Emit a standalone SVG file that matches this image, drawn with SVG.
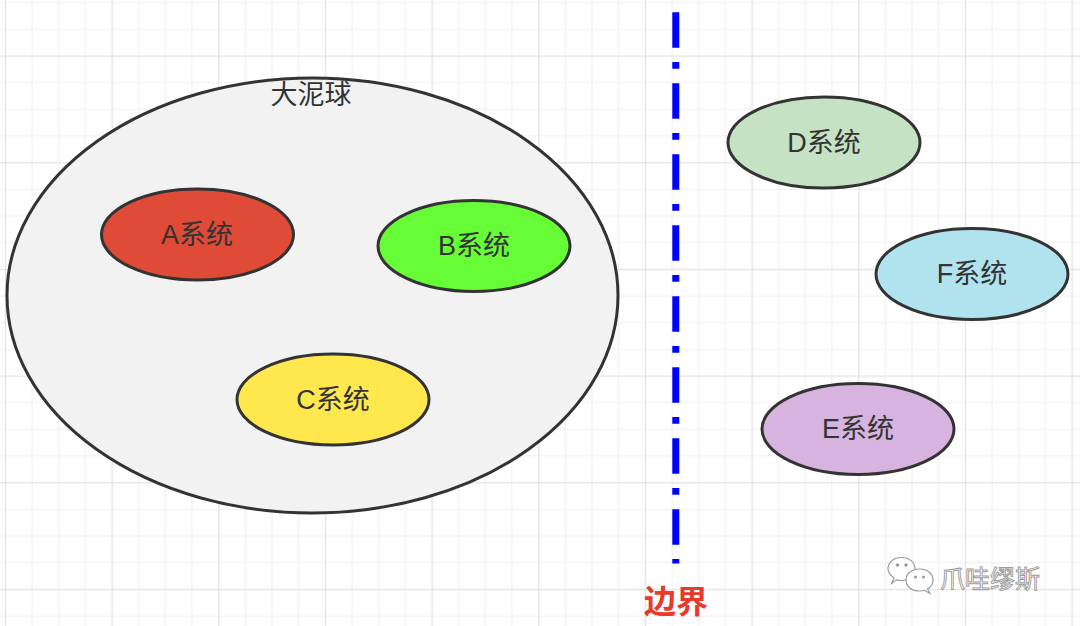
<svg xmlns="http://www.w3.org/2000/svg" width="1080" height="626" viewBox="0 0 1080 626">
  <defs>
    <pattern id="grid" patternUnits="userSpaceOnUse" x="4.83" y="55.5" width="106.667" height="106.667">
      <rect x="0" y="0" width="1" height="106.667" fill="#eeeeee"/>
      <rect x="26.667" y="0" width="1" height="106.667" fill="#eeeeee"/>
      <rect x="53.333" y="0" width="1" height="106.667" fill="#eeeeee"/>
      <rect x="80" y="0" width="1" height="106.667" fill="#eeeeee"/>
      <rect x="0" y="0" width="106.667" height="1" fill="#eeeeee"/>
      <rect x="0" y="26.667" width="106.667" height="1" fill="#eeeeee"/>
      <rect x="0" y="53.333" width="106.667" height="1" fill="#eeeeee"/>
      <rect x="0" y="80" width="106.667" height="1" fill="#eeeeee"/>
      <rect x="-0.3" y="0" width="1.6" height="106.667" fill="#e3e3e3"/>
      <rect x="0" y="-0.3" width="106.667" height="1.6" fill="#e3e3e3"/>
    </pattern>
  </defs>
  <style>
    .node { stroke: #333333; stroke-width: 3; }
    .lbl { font-family: "Liberation Sans", "Noto Sans CJK SC", sans-serif; font-size: 27px; fill: #333333; text-anchor: middle; }
    .wm { font-family: "Noto Sans CJK SC", sans-serif; font-size: 25px; fill: #ffffff; stroke: #9a9a9a; stroke-width: 0.9; }
    .bub { fill: #ffffff; stroke: #9a9a9a; stroke-width: 1.2; }
  </style>
  <rect width="1080" height="626" fill="#ffffff"/>
  <rect width="1080" height="626" fill="url(#grid)"/>

  <g id="bigball">
    <ellipse class="node" cx="312.5" cy="295.5" rx="305.5" ry="217.5" fill="#f2f2f2"/>
    <text class="lbl" x="311" y="104">大泥球</text>
  </g>
  <g id="sysA">
    <ellipse class="node" cx="197.5" cy="234.5" rx="96" ry="45.5" fill="#df4b36"/>
    <text class="lbl" x="197" y="243.5">A系统</text>
  </g>
  <g id="sysB">
    <ellipse class="node" cx="474" cy="246" rx="96" ry="45.5" fill="#66fc36"/>
    <text class="lbl" x="474" y="255">B系统</text>
  </g>
  <g id="sysC">
    <ellipse class="node" cx="333" cy="399.5" rx="96" ry="45.5" fill="#ffe84d"/>
    <text class="lbl" x="333" y="408.5">C系统</text>
  </g>
  <g id="sysD">
    <ellipse class="node" cx="824" cy="142.5" rx="96" ry="45.5" fill="#c6e2c4"/>
    <text class="lbl" x="824" y="151.5">D系统</text>
  </g>
  <g id="sysF">
    <ellipse class="node" cx="972" cy="274" rx="96" ry="45.5" fill="#b1e3ee"/>
    <text class="lbl" x="972" y="283">F系统</text>
  </g>
  <g id="sysE">
    <ellipse class="node" cx="858" cy="429" rx="96" ry="45.5" fill="#d7b4e0"/>
    <text class="lbl" x="858" y="438">E系统</text>
  </g>

  <g id="connectors">
    <line x1="675.8" y1="12.3" x2="675.8" y2="563.5" stroke="#0000ff" stroke-width="7" stroke-dasharray="35.5 14.3 6.7 14.5"/>
  </g>
  <g id="boundary-label">
    <text x="676" y="613" font-family="'Noto Sans CJK SC', sans-serif" font-size="32" font-weight="bold" fill="#e8392b" text-anchor="middle">边界</text>
  </g>

  <g id="watermark">
    <path class="bub" d="M894 578 C 890 575 888 572 888 569 C 888 562 894 557.5 901.5 557.5 C 909 557.5 915 562 915 569 C 915 576 909 580.5 901.5 580.5 C 899.5 580.5 898 580.2 896.5 579.8 L 891.5 583.5 Z"/>
    <path class="bub" d="M927.5 589 C 931 587 933 584 933 580 C 933 573.5 927 569 919.5 569 C 912 569 906 573.5 906 580 C 906 586.5 912 591 919.5 591 C 921.5 591 923 590.8 924.5 590.3 L 930 593.5 Z"/>
    <g fill="#9a9a9a">
      <circle cx="897.5" cy="565" r="1.7"/>
      <circle cx="906" cy="565" r="1.7"/>
      <circle cx="915.5" cy="577" r="1.5"/>
      <circle cx="923.5" cy="577" r="1.5"/>
    </g>
    <text class="wm" x="940" y="588">爪哇缪斯</text>
  </g>
</svg>
